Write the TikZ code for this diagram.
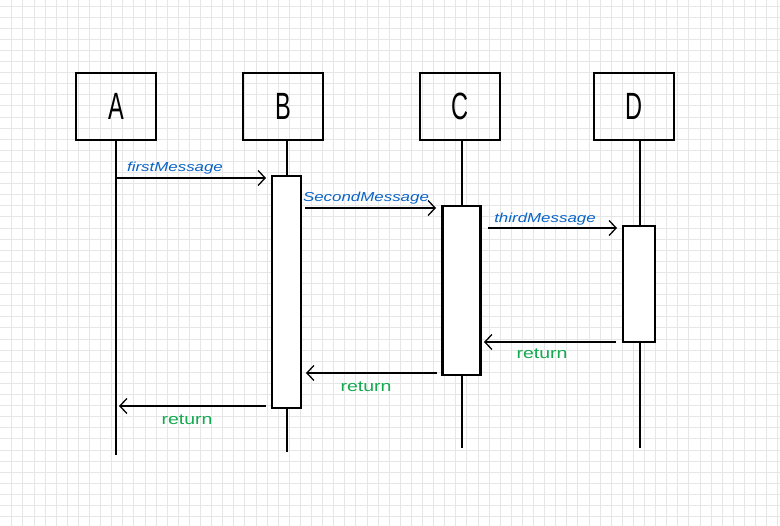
\documentclass[tikz,border=0pt]{standalone}
\usepackage{fontspec}
\setmainfont{Liberation Sans}
\newfontfamily\handfont[FakeStretch=1.3]{Liberation Sans}
\newfontfamily\capfont[FakeStretch=0.62]{Liberation Sans}
\usetikzlibrary{arrows.meta}
\definecolor{gridc}{RGB}{230,230,230}
\definecolor{msgblue}{RGB}{10,100,200}
\definecolor{retgreen}{RGB}{20,170,80}
\tikzset{
  x=1pt,y=-1pt,
  actor/.style={draw,line width=1.6pt,minimum width=80pt,minimum height=67pt,inner sep=0pt,font=\capfont\fontsize{38}{38}\selectfont},
  actbox/.style={draw,line width=2.6pt,inner sep=0pt,fill=white},
  life/.style={line width=2pt},
  msg/.style={line width=1.3pt,-{Straight Barb[length=7pt,width=15pt,line width=1.3pt]}},
  bluelbl/.style={text=msgblue,font=\handfont\itshape\fontsize{13}{13}\selectfont,inner sep=0pt},
  greenlbl/.style={text=retgreen,font=\handfont\fontsize{15}{15}\selectfont,inner sep=0pt}
}
\begin{document}
\begin{tikzpicture}
\useasboundingbox (0,0) rectangle (780,526);
\fill[white] (0,0) rectangle (780,526);
\foreach \i in {0,...,70} {\draw[gridc,line width=0.8pt] (11.7+11.1*\i,0) -- (11.7+11.1*\i,526);}
\foreach \j in {0,...,47} {\draw[gridc,line width=0.8pt] (0,6+11.1*\j) -- (780,6+11.1*\j);}
% actors
\node[actor] (A) at (116,106.5) {A};
\node[actor] (B) at (283,106.5) {B};
\node[actor] (C) at (460,106.5) {C};
\node[actor] (D) at (634,106.5) {D};
% lifeline ends
\coordinate (Aend) at (116,455);
\coordinate (Bend) at (287,452);
\coordinate (Cend) at (462,448);
\coordinate (Dend) at (640,448);
\coordinate (Atop) at (116,140);
\coordinate (Btop) at (287,140);
\coordinate (Ctop) at (462,140);
\coordinate (Dtop) at (640,140);
\draw[life] (Atop) -- (Aend);
\draw[life] (Btop) -- (Bend);
\draw[life] (Ctop) -- (Cend);
\draw[life] (Dtop) -- (Dend);
% activations
\node[actbox,minimum width=29pt,minimum height=232pt] (actB) at (286.5,292) {};
\node[actbox,minimum width=38pt,minimum height=169pt] (actC) at (461.5,290.5) {};
\node[actbox,minimum width=32pt,minimum height=116pt] (actD) at (639,284) {};
% message anchors
\coordinate (m1s) at (116,178);
\coordinate (m1e) at (266,178);
\coordinate (m2s) at (305,208);
\coordinate (m2e) at (436,208);
\coordinate (m3s) at (488,228);
\coordinate (m3e) at (617,228);
\coordinate (r1s) at (616,342);
\coordinate (r1e) at (484,342);
\coordinate (r2s) at (437,373);
\coordinate (r2e) at (306,373);
\coordinate (r3s) at (266,406);
\coordinate (r3e) at (119,406);
\draw[msg] (m1s) -- (m1e);
\draw[msg] (m2s) -- (m2e);
\draw[msg] (m3s) -- (m3e);
\draw[msg] (r1s) -- (r1e);
\draw[msg] (r2s) -- (r2e);
\draw[msg] (r3s) -- (r3e);
% labels
\node[bluelbl] (l1) at (175,168) {firstMessage};
\node[bluelbl] (l2) at (366,198) {SecondMessage};
\node[bluelbl] (l3) at (545,219) {thirdMessage};
\node[greenlbl] (l4) at (542,354) {return};
\node[greenlbl] (l5) at (366,387) {return};
\node[greenlbl] (l6) at (187,420) {return};
\end{tikzpicture}
\end{document}
